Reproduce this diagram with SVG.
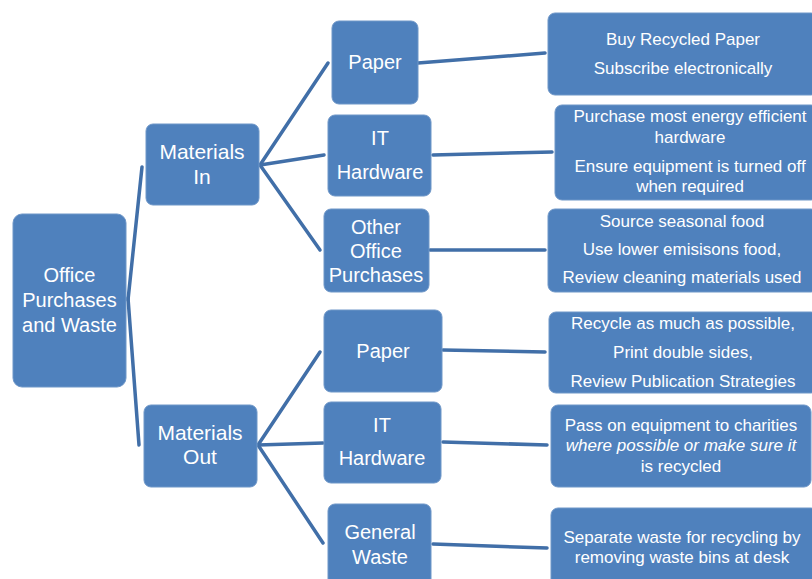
<svg xmlns="http://www.w3.org/2000/svg" width="812" height="579" viewBox="0 0 812 579">
<style>
.box{fill:#4F81BD;stroke:#6F97C8;stroke-width:1}
.t{fill:#FFFFFF;font-family:"Liberation Sans",Arial,sans-serif;text-anchor:middle}
.n{font-size:20px}
.m{font-size:21px}
.s{font-size:17px}
.c{stroke:#416FA8;stroke-width:3.5;stroke-linecap:round;fill:none}
</style>
<rect width="812" height="579" fill="#FFFFFF"/>
<g id="connectors">
<line class="c" x1="128" y1="300" x2="142" y2="167"/>
<line class="c" x1="128" y1="298" x2="139" y2="445"/>
<line class="c" x1="260" y1="165" x2="328" y2="63"/>
<line class="c" x1="260" y1="165" x2="324" y2="155"/>
<line class="c" x1="260" y1="165" x2="320" y2="250"/>
<line class="c" x1="258" y1="445" x2="320" y2="352"/>
<line class="c" x1="258" y1="445" x2="323" y2="443"/>
<line class="c" x1="258" y1="445" x2="323" y2="543"/>
<line class="c" x1="418" y1="63" x2="545" y2="53"/>
<line class="c" x1="433" y1="155" x2="552" y2="152"/>
<line class="c" x1="430" y1="250" x2="545" y2="250"/>
<line class="c" x1="443" y1="350" x2="545" y2="352"/>
<line class="c" x1="443" y1="442" x2="547" y2="445"/>
<line class="c" x1="433" y1="544" x2="547" y2="548"/>
</g>
<g id="root">
<rect class="box" x="13" y="214" width="113" height="173" rx="9"/>
<text class="t n" x="69.5" y="282">Office</text>
<text class="t n" x="69.5" y="307">Purchases</text>
<text class="t n" x="69.5" y="332">and Waste</text>
</g>
<g id="materials-in">
<rect class="box" x="146" y="124" width="113" height="81" rx="7"/>
<text class="t m" x="202" y="159">Materials</text>
<text class="t m" x="202" y="184">In</text>
</g>
<g id="materials-out">
<rect class="box" x="144" y="405" width="113" height="82" rx="7"/>
<text class="t m" x="200" y="440">Materials</text>
<text class="t m" x="200" y="464">Out</text>
</g>
<g id="paper-in">
<rect class="box" x="332" y="21" width="86" height="83" rx="7"/>
<text class="t n" x="375" y="69">Paper</text>
</g>
<g id="it-in">
<rect class="box" x="328" y="115" width="103" height="81" rx="7"/>
<text class="t n" x="380" y="145">IT</text>
<text class="t n" x="380" y="179">Hardware</text>
</g>
<g id="other-in">
<rect class="box" x="324" y="209" width="105" height="83" rx="7"/>
<text class="t n" x="376" y="234">Other</text>
<text class="t n" x="376" y="258">Office</text>
<text class="t n" x="376" y="282">Purchases</text>
</g>
<g id="paper-out">
<rect class="box" x="324" y="310" width="118" height="82" rx="7"/>
<text class="t n" x="383" y="358">Paper</text>
</g>
<g id="it-out">
<rect class="box" x="324" y="402" width="117" height="81" rx="7"/>
<text class="t n" x="382" y="432">IT</text>
<text class="t n" x="382" y="465">Hardware</text>
</g>
<g id="general-waste">
<rect class="box" x="328" y="504" width="103" height="90" rx="7"/>
<text class="t n" x="380" y="539">General</text>
<text class="t n" x="380" y="564">Waste</text>
</g>
<g id="action-paper-in">
<rect class="box" x="548" y="13" width="270" height="82" rx="7"/>
<text class="t s" x="683" y="45">Buy Recycled Paper</text>
<text class="t s" x="683" y="74">Subscribe electronically</text>
</g>
<g id="action-it-in">
<rect class="box" x="555" y="105" width="263" height="95" rx="7"/>
<text class="t s" x="690" y="122">Purchase most energy efficient</text>
<text class="t s" x="690" y="143">hardware</text>
<text class="t s" x="690" y="172">Ensure equipment is turned off</text>
<text class="t s" x="690" y="192">when required</text>
</g>
<g id="action-other-in">
<rect class="box" x="548" y="209" width="270" height="83" rx="7"/>
<text class="t s" x="682" y="227">Source seasonal food</text>
<text class="t s" x="682" y="255">Use lower emisisons food,</text>
<text class="t s" x="682" y="283">Review cleaning materials used</text>
</g>
<g id="action-paper-out">
<rect class="box" x="549" y="312" width="269" height="81" rx="7"/>
<text class="t s" x="683" y="329">Recycle as much as possible,</text>
<text class="t s" x="683" y="358">Print double sides,</text>
<text class="t s" x="683" y="387">Review Publication Strategies</text>
</g>
<g id="action-it-out">
<rect class="box" x="551" y="405" width="260" height="82" rx="7"/>
<text class="t s" x="681" y="431">Pass on equipment to charities</text>
<text class="t s" x="681" y="451" font-style="italic">where possible or make sure it</text>
<text class="t s" x="681" y="472">is recycled</text>
</g>
<g id="action-general-waste">
<rect class="box" x="551" y="508" width="267" height="90" rx="7"/>
<text class="t s" x="682" y="543">Separate waste for recycling by</text>
<text class="t s" x="682" y="563">removing waste bins at desk</text>
</g>
</svg>
